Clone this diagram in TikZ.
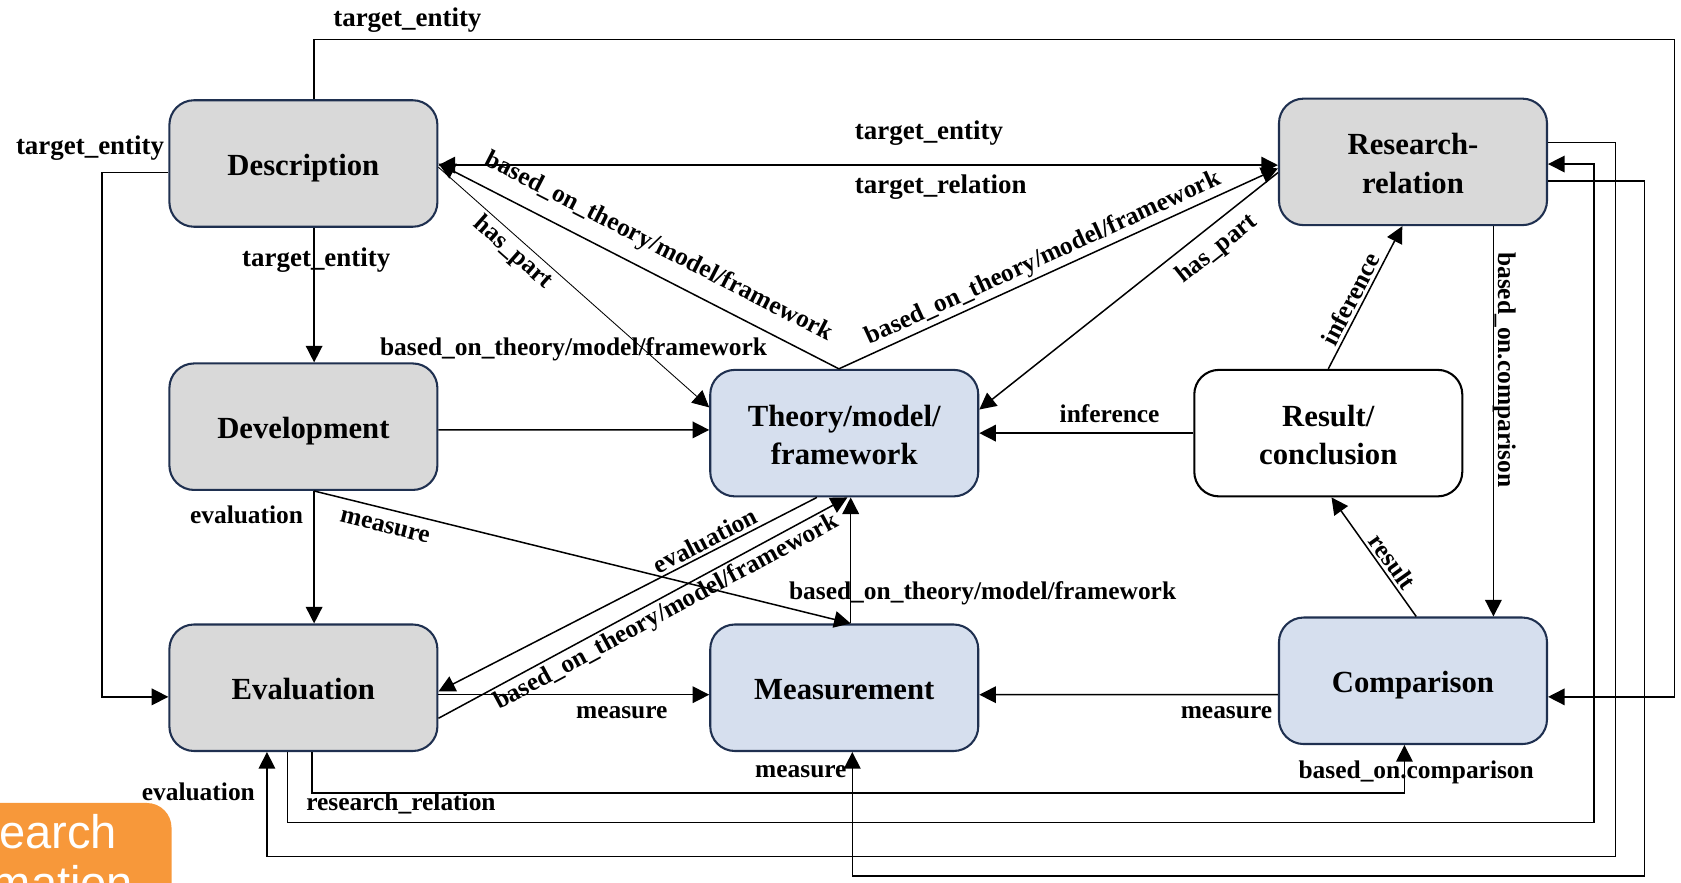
\documentclass[tikz,border=0pt]{standalone}
\usepackage{fontspec}
\setmainfont{Liberation Serif}
\newfontfamily\slidefont{Liberation Sans}
\usepackage{tikz}
\usetikzlibrary{arrows.meta}
\definecolor{boxgrey}{RGB}{217,217,217}
\definecolor{boxblue}{RGB}{214,223,238}
\definecolor{boxline}{RGB}{31,48,80}
\definecolor{slideorange}{RGB}{247,152,58}
\tikzset{
  box/.style={
    draw=boxline, line width=1.1pt, rounded corners=4.6mm,
    minimum width=50mm, minimum height=23.6mm, inner sep=0pt,
    align=center, font=\fontsize{16.3}{20.5}\selectfont\bfseries,
    text height=12.6pt, text depth=0pt
  },
  twoline/.style={text height=33.5pt, text depth=0pt},
  greybox/.style={box, fill=boxgrey},
  bluebox/.style={box, fill=boxblue},
  whitebox/.style={box, draw=black, fill=white},
  conn/.style={line width=0.8pt, ->},
  thinconn/.style={conn, line width=0.45pt},
  lbl/.style={font=\fontsize{13.5}{16}\selectfont\bfseries, inner sep=1.5pt},
  tlbl/.style={lbl, font=\fontsize{14.3}{17}\selectfont\bfseries}
}

\begin{document}
\begin{tikzpicture}[x=0.2mm, y=-0.2mm, >={Triangle[length=3.1mm,width=3.1mm]}]
  \useasboundingbox (0,0) rectangle (1568,823);

  % boxes
  \node[greybox] (desc) at (283,152.5) {Description};
  \node[greybox] (dev) at (283,398) {Development};
  \node[greybox] (eval) at (283,641.5) {Evaluation};
  \node[bluebox, twoline] (theory) at (787.5,404) {Theory/model/\\framework};
  \node[bluebox] (meas) at (787.5,641.5) {Measurement};
  \node[greybox, twoline] (resrel) at (1318,151) {Research-\\relation};
  \node[whitebox, twoline] (result) at (1239,404) {Result/\\conclusion};
  \node[bluebox] (comp) at (1318,635) {Comparison};

  % left column
  \draw[conn] ([xshift=2mm]desc.south) -- ([xshift=2mm]dev.north);
  \node[tlbl] (teDev) at (295,243) {target\_entity};
  \draw[conn] ([xshift=2mm]dev.south) -- ([xshift=2mm]eval.north);
  \node[lbl] (evDev) at (230,480) {evaluation};
  \draw[conn] ([yshift=-1.7mm]desc.west) -- ++(-62,0) |- ([yshift=-1.7mm]eval.west);
  \node[tlbl] (teLeft) at (84,138) {target\_entity};

  % long loop over the top
  \coordinate (topR) at (1562,37);
  \draw[conn] ([xshift=2mm]desc.north) |- (topR) |- ([yshift=-3mm]comp.east);
  \node[tlbl] (teTop) at (380,19) {target\_entity};

  \draw[conn, <->] ([yshift=-0.3mm]desc.east) -- ([yshift=-0.3mm]desc.east -| resrel.west);
  \node[tlbl, anchor=west] (teMid) at (794.5,124.5) {target\_entity};
  \node[tlbl, anchor=west] (trMid) at (794.5,174.5) {target\_relation};

  % into and out of the theory box
  \draw[thinconn] ([yshift=-0.7mm]desc.east) -- node[lbl, sloped, below, pos=0.31] (hpL) {has\_part} ([yshift=4.8mm]theory.west);
  \draw[conn] ([xshift=-1mm]theory.north) -- node[lbl, sloped, above=2mm, pos=0.48] (boL) {based\_on\_theory/model/framework} (desc.east);
  \draw[conn] ([xshift=-1mm]theory.north) -- node[lbl, sloped, above, pos=0.48] (boR) {based\_on\_theory/model/framework} ([yshift=-1.2mm]resrel.west);
  \draw[conn] ([yshift=-2mm]resrel.west) -- node[lbl, sloped, below=1.3mm, pos=0.25] (hpR) {has\_part} ([yshift=4.4mm]theory.east);
  \draw[conn] ([yshift=-0.6mm]dev.east) -- ([yshift=0.6mm]theory.west);
  \node[lbl] (boDev) at (535,326) {based\_on\_theory/model/framework};
  \draw[conn] (result.west) -- (theory.east);
  \node[lbl] (infMid) at (1035,386) {inference};
  \draw[conn] ([xshift=1.2mm]meas.north) -- ([xshift=1.2mm]theory.south);
  \node[lbl, anchor=west] (boMeas) at (733,553) {based\_on\_theory/model/framework};
  \draw[conn] ([xshift=-5.1mm]theory.south) -- node[lbl, sloped, above, pos=0.28] (evTh) {evaluation} ([yshift=-0.7mm]eval.east);
  \draw[conn] ([yshift=-5.7mm]eval.east) -- node[lbl, sloped, below, pos=0.54] (boEv) {based\_on\_theory/model/framework} ([xshift=0.6mm]theory.south);
  \draw[conn] ([xshift=2mm]dev.south) -- node[lbl, sloped, below=1.5mm, pos=0.14] (msDev) {measure} ([xshift=1.2mm]meas.north);

  % into measurement
  \draw[conn] ([yshift=-1.3mm]eval.east) -- ([yshift=-1.3mm]meas.west);
  \node[lbl] (msEv) at (580,665) {measure};
  \draw[conn] ([yshift=-2.6mm]comp.west) -- ([yshift=-1.3mm]meas.east);
  \node[lbl] (msComp) at (1144,665) {measure};

  % right part
  \draw[conn] (result.north) -- node[lbl, sloped, above, pos=0.45] (infR) {inference} ([xshift=-2mm]resrel.south);
  \draw[conn] ([xshift=0.6mm]comp.north) -- node[lbl, sloped, above, pos=0.4] (res) {result} ([xshift=0.6mm]result.south);
  \draw[conn] ([xshift=15mm]resrel.south) -- ([xshift=15mm]comp.north);
  \node[lbl, rotate=-90] (bocR) at (1403,345) {based\_on.comparison};

  % loops under the boxes
  \draw[conn] ([xshift=1.6mm]eval.south) -- ++(0,38) -| ([xshift=-1.6mm]comp.south);
  \node[lbl] (bocB) at (1321,720) {based\_on.comparison};
  \coordinate (rrB) at (1487,767);
  \draw[conn] ([xshift=-3mm]eval.south) |- (rrB) |- ([yshift=-0.4mm]resrel.east);
  \node[lbl] (rr) at (374,749) {research\_relation};
  \coordinate (evB) at (1507,799);
  \draw[conn] ([yshift=3.6mm]resrel.east) -| (evB) -| ([xshift=-6.8mm]eval.south);
  \node[lbl] (evBot) at (185,739) {evaluation};
  \coordinate (msB) at (1534,817);
  \draw[conn] ([yshift=-3.6mm]resrel.east) -| (msB) -| ([xshift=1.5mm]meas.south);
  \node[lbl] (msBot) at (747,720) {measure};

  % orange tab cut by the edge
  \begin{scope}
    \clip (0,0) rectangle (1568,823);
    \fill[slideorange, rounded corners=4.6mm] (-60,749) rectangle (160,900);
    \node[font=\slidefont\fontsize{25}{30}\selectfont, text=white, anchor=base west, inner sep=0pt] (tabA) at (-1,791) {earch};
    \node[font=\slidefont\fontsize{25}{30}\selectfont, text=white, anchor=base west, inner sep=0pt] (tabB) at (-8,839) {mation};
  \end{scope}
\end{tikzpicture}
\end{document}
